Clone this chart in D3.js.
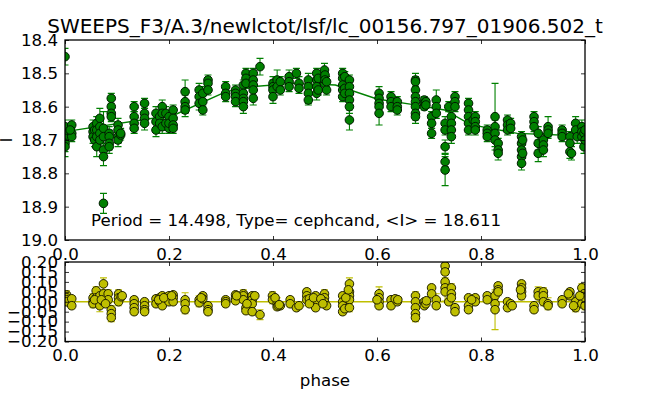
<!DOCTYPE html>
<html><head><meta charset="utf-8">
<script src="https://cdnjs.cloudflare.com/ajax/libs/d3/7.8.5/d3.min.js"></script>
<style>html,body{margin:0;padding:0;background:#fff}svg{display:block}text{font-family:"DejaVu Sans",sans-serif;fill:#000}</style>
</head><body><svg id="c" width="650" height="401"></svg>
<script>
const titleText = "SWEEPS_F3/A.3/newlctot/lsf/lc_00156.797_01906.502_t";
const noteText = "Period = 14.498, Type= cephcand, <I> = 18.611";
const phaseTicks = [0,0.2,0.4,0.6,0.8,1.0];
const magTicks = [18.4,18.5,18.6,18.7,18.8,18.9,19.0];
const residTicks = [0.20,0.15,0.10,0.05,0,-0.05,-0.10,-0.15,-0.20];

const modelPhase = [0,0.21,0.31,0.36,0.44,0.52,0.6,0.67,0.73,0.78,0.87,1.0];
const modelMag = [18.675,18.625,18.555,18.54,18.53,18.535,18.577,18.594,18.61,18.654,18.68,18.688];

const magPhase = [
0,0,0,0,0,0,0.013,0.013,0.013,0.01,
0.054,0.054,0.054,0.057,0.057,0.061,0.061,0.061,0.061,0.067,0.067,0.067,0.067,
0.074,0.074,0.074,0.074,0.074,0.085,0.085,0.085,0.085,0.089,0.089,0.089,0.089,
0.102,0.102,0.102,0.102,0.107,0.107,0.133,0.133,0.133,0.133,0.153,0.153,0.153,0.153,
0.175,0.175,0.175,0.182,0.182,0.187,0.187,0.187,0.194,0.194,0.2,0.2,0.2,0.208,0.208,0.208,0.208,
0.231,0.231,0.231,0.231,0.258,0.258,0.258,0.265,0.265,0.265,0.275,0.275,0.275,
0.309,0.309,0.309,0.328,0.328,0.328,0.328,0.343,0.343,0.343,0.343,0.343,0.348,0.348,0.348,
0.362,0.362,0.362,0.362,0.362,0.375,0.4,0.4,0.4,0.4,0.408,0.408,0.414,0.414,0.431,0.431,0.431,
0.445,0.45,0.45,0.468,0.468,0.468,0.468,0.484,0.484,0.484,0.484,0.487,0.487,
0.499,0.499,0.499,0.5,0.5,0.503,0.503,
0.534,0.534,0.534,0.534,0.534,0.538,0.538,0.538,0.547,0.547,0.547,0.547,0.547,0.547,
0.604,0.604,0.604,0.604,0.604,0.627,0.627,0.627,0.639,0.639,0.639,
0.674,0.674,0.674,0.674,0.674,0.674,0.674,0.674,0.691,0.691,0.691,0.694,0.694,
0.705,0.705,0.705,0.714,0.714,0.714,0.731,0.731,0.731,0.731,0.731,0.738,
0.743,0.743,0.743,0.743,0.75,0.75,0.75,
0.776,0.776,0.776,0.776,0.776,0.785,0.789,0.789,0.789,0.789,
0.812,0.812,0.812,0.827,0.827,0.827,0.827,0.833,0.833,0.833,0.851,0.851,0.851,0.857,0.857,
0.878,0.878,0.878,0.878,0.878,0.88,0.88,0.902,0.902,0.902,0.91,0.91,0.91,0.92,0.92,0.92,0.929,0.929,0.929,
0.956,0.956,0.956,0.971,0.971,0.971,0.974,0.982,0.982,0.985,0.994,0.994,0.994,0.998,0.998,1,1
];
const mag = [
18.45,18.66,18.68,18.695,18.71,18.72,18.655,18.68,18.69,18.67,
18.66,18.675,18.69,18.67,18.70,18.65,18.67,18.69,18.72,18.635,18.66,18.68,18.70,
18.665,18.69,18.73,18.75,18.89,18.68,18.69,18.71,18.72,18.575,18.60,18.62,18.63,
18.655,18.67,18.69,18.70,18.685,18.68,18.60,18.63,18.65,18.665,18.59,18.62,18.635,18.65,
18.62,18.645,18.67,18.63,18.65,18.60,18.62,18.66,18.65,18.62,18.63,18.665,18.65,18.61,18.635,18.655,18.665,
18.555,18.585,18.60,18.61,18.55,18.57,18.59,18.56,18.585,18.61,18.52,18.53,18.55,
18.54,18.56,18.57,18.55,18.56,18.57,18.585,18.535,18.56,18.575,18.585,18.60,18.50,18.515,18.53,
18.50,18.52,18.535,18.55,18.575,18.48,18.53,18.54,18.55,18.57,18.52,18.54,18.525,18.55,18.51,18.525,18.54,
18.50,18.53,18.545,18.52,18.54,18.56,18.58,18.50,18.52,18.54,18.56,18.515,18.55,
18.49,18.51,18.53,18.505,18.52,18.55,18.525,
18.50,18.515,18.535,18.55,18.57,18.51,18.545,18.56,18.52,18.54,18.56,18.58,18.60,18.64,
18.56,18.575,18.59,18.60,18.62,18.57,18.585,18.60,18.585,18.60,18.61,
18.52,18.525,18.55,18.57,18.585,18.60,18.62,18.63,18.58,18.59,18.60,18.585,18.595,
18.63,18.65,18.68,18.58,18.60,18.62,18.65,18.67,18.72,18.765,18.79,18.60,
18.63,18.65,18.67,18.69,18.57,18.585,18.60,
18.59,18.61,18.63,18.65,18.67,18.64,18.63,18.645,18.66,18.67,
18.67,18.68,18.69,18.63,18.66,18.68,18.70,18.71,18.73,18.74,18.64,18.655,18.67,18.65,18.665,
18.69,18.71,18.73,18.75,18.77,18.70,18.74,18.63,18.645,18.66,18.68,18.71,18.74,18.70,18.715,18.73,18.66,18.67,18.68,
18.67,18.68,18.69,18.69,18.71,18.735,18.74,18.65,18.67,18.69,18.66,18.675,18.69,18.68,18.72,18.67,18.70
];
const magErr = [
0.025,0.02,0.02,0.02,0.025,0.03,0.015,0.015,0.015,0.015,
0.02,0.02,0.02,0.02,0.02,0.02,0.02,0.02,0.03,0.03,0.025,0.02,0.02,
0.05,0.02,0.02,0.027,0.03,0.02,0.02,0.02,0.02,0.015,0.02,0.02,0.015,
0.02,0.02,0.02,0.02,0.015,0.015,0.015,0.015,0.015,0.015,0.015,0.015,0.015,0.02,
0.02,0.02,0.02,0.02,0.02,0.02,0.02,0.02,0.02,0.02,0.015,0.015,0.015,0.015,0.015,0.015,0.015,
0.035,0.02,0.02,0.02,0.02,0.02,0.02,0.02,0.015,0.015,0.015,0.015,0.015,
0.015,0.015,0.015,0.015,0.015,0.015,0.015,0.015,0.02,0.02,0.02,0.02,0.015,0.015,0.015,
0.015,0.02,0.015,0.015,0.02,0.025,0.02,0.02,0.02,0.02,0.03,0.015,0.015,0.015,0.02,0.015,0.015,
0.015,0.02,0.015,0.02,0.02,0.03,0.015,0.015,0.015,0.015,0.02,0.015,0.015,
0.02,0.02,0.015,0.015,0.015,0.015,0.015,
0.015,0.015,0.015,0.015,0.015,0.015,0.015,0.015,0.015,0.02,0.015,0.02,0.02,0.03,
0.02,0.015,0.015,0.015,0.035,0.015,0.015,0.015,0.015,0.015,0.015,
0.02,0.015,0.015,0.015,0.015,0.015,0.02,0.02,0.01,0.01,0.01,0.01,0.01,
0.015,0.015,0.015,0.03,0.015,0.015,0.02,0.015,0.02,0.015,0.047,0.015,
0.02,0.015,0.02,0.02,0.015,0.015,0.015,
0.015,0.015,0.015,0.02,0.015,0.015,0.015,0.015,0.015,0.015,
0.015,0.015,0.015,0.10,0.02,0.02,0.02,0.015,0.015,0.02,0.015,0.015,0.015,0.015,0.015,
0.015,0.015,0.015,0.015,0.02,0.015,0.015,0.015,0.015,0.015,0.02,0.02,0.025,0.02,0.02,0.02,0.03,0.015,0.015,
0.015,0.015,0.015,0.015,0.02,0.02,0.02,0.02,0.02,0.02,0.02,0.02,0.02,0.02,0.02,0.02,0.02
];

const residPhase = [
0.003,0.003,0.003,0.003,0.013,0.013,0.054,0.054,0.054,0.06,0.06,0.067,0.067,
0.074,0.074,0.074,0.083,0.083,0.089,0.089,0.089,0.103,0.103,0.103,0.108,
0.133,0.133,0.133,0.133,0.153,0.153,0.153,0.153,0.175,0.175,0.182,0.182,0.187,0.187,0.194,0.2,0.2,0.208,0.208,0.208,
0.231,0.231,0.231,0.258,0.258,0.265,0.265,0.275,0.275,0.275,0.309,0.309,0.309,
0.328,0.328,0.328,0.343,0.343,0.343,0.348,0.348,0.36,0.36,0.36,0.36,0.375,
0.399,0.399,0.408,0.408,0.414,0.433,0.433,0.445,0.45,0.465,0.465,0.465,0.47,0.482,0.482,0.482,
0.499,0.499,0.499,0.503,0.534,0.534,0.534,0.534,0.538,0.547,0.547,0.547,0.547,0.547,
0.604,0.604,0.604,0.604,0.627,0.627,0.639,0.639,0.674,0.674,0.674,0.674,0.674,0.691,0.691,0.694,
0.705,0.705,0.714,0.714,0.731,0.731,0.731,0.731,0.731,0.738,0.743,0.743,0.743,0.75,0.75,
0.776,0.776,0.776,0.785,0.789,0.789,0.812,0.812,0.827,0.827,0.827,0.833,0.833,0.833,0.851,0.851,0.857,
0.878,0.878,0.878,0.878,0.902,0.902,0.91,0.91,0.92,0.92,0.92,0.929,0.929,
0.956,0.956,0.971,0.971,0.982,0.982,0.994,0.994,0.994,0.998,1,1,
0.057,0.07,0.078,0.11,0.18,0.19,0.205,0.262,0.33,0.35,0.365,0.404,0.41,0.412,0.47,0.478,0.492,0.496,0.54,0.545,0.6,0.635,0.64,0.695,0.782,0.86,0.876,0.968,0.978,0.99
];
const resid = [
0.035,0.02,0.01,0,0.015,-0.02,0.02,0,-0.01,0.055,0.02,0.03,-0.02,
0.09,0.04,0,0.04,0.01,-0.04,-0.06,-0.08,0.04,0.02,0,0.025,
0.01,-0.01,-0.03,-0.05,0,-0.02,-0.04,-0.05,0.015,-0.01,0.02,0,0.03,-0.02,0.02,0.03,0,0.035,0.02,0,
0.01,-0.01,-0.04,0.01,-0.005,0.03,0.015,-0.02,-0.04,-0.05,0.01,0,-0.01,
0.035,0.02,0.005,0.04,0.03,0.01,-0.03,-0.045,0.03,0.01,-0.01,-0.05,-0.065,
0.03,0.01,-0.01,-0.025,-0.02,0.01,-0.01,-0.03,-0.02,0.05,0.03,0.01,0.015,0.03,0,-0.03,
0.04,0.02,0,-0.02,0.03,0,-0.02,-0.05,-0.035,0.09,0.05,0.03,0.01,-0.03,
0.04,0.02,0,-0.02,0.01,-0.02,0.01,0,0.03,0,-0.03,-0.06,-0.08,0,-0.02,-0.01,
0.07,0.04,0.01,-0.02,0.18,0.15,0.10,0.07,0.05,0,0.07,0.04,0.02,-0.03,-0.05,
0.02,-0.02,-0.04,0.01,0.02,0,0.03,0.01,0.03,-0.01,-0.04,0.08,0.06,0.05,0,-0.03,-0.01,
0.09,0.07,0.05,0.03,-0.02,-0.04,0.05,0.03,0.05,0.03,0,-0.01,-0.02,
0.01,-0.01,0.05,0.03,0,-0.03,0.07,0.02,-0.01,0.04,0.02,-0.02,
0.01,0.01,-0.01,0.03,0.01,0.02,0.03,0.02,0.03,-0.01,0.03,0.02,-0.02,-0.015,-0.01,0.02,0.015,-0.01,0.02,0.06,0.01,0.015,0.01,0.005,0.01,-0.02,0.06,0.04,-0.02,0.03
];
const residErrValues = [
0.02,0.02,0.02,0.02,0.015,0.015,0.02,0.02,0.02,0.02,0.02,0.02,0.03,
0.03,0.02,0.02,0.02,0.02,0.02,0.02,0.02,0.02,0.02,0.02,0.02,
0.015,0.015,0.015,0.015,0.015,0.015,0.015,0.015,0.015,0.015,0.015,0.015,0.015,0.015,0.015,0.015,0.015,0.015,0.015,0.015,
0.035,0.02,0.02,0.02,0.02,0.015,0.015,0.015,0.015,0.015,0.015,0.015,0.015,
0.015,0.015,0.015,0.02,0.02,0.015,0.015,0.015,0.015,0.015,0.015,0.015,0.025,
0.02,0.02,0.03,0.015,0.015,0.015,0.015,0.015,0.015,0.015,0.015,0.03,0.015,0.015,0.015,0.015,
0.02,0.015,0.015,0.015,0.015,0.015,0.015,0.015,0.015,0.03,0.015,0.02,0.02,0.02,
0.035,0.02,0.015,0.015,0.015,0.015,0.015,0.015,0.02,0.015,0.015,0.02,0.02,0.01,0.01,0.01,
0.015,0.015,0.03,0.015,0.02,0.015,0.02,0.015,0.047,0.015,0.02,0.015,0.02,0.015,0.015,
0.015,0.02,0.015,0.015,0.015,0.015,0.015,0.015,0.02,0.02,0.10,0.015,0.015,0.02,0.015,0.015,0.015,
0.015,0.015,0.015,0.02,0.02,0.015,0.025,0.02,0.02,0.02,0.02,0.03,0.015,
0.015,0.015,0.015,0.02,0.02,0.02,0.02,0.02,0.02,0.02,0.02,0.02,
0.015,0.015,0.015,0.015,0.015,0.015,0.015,0.015,0.015,0.015,0.015,0.015,0.015,0.015,0.015,0.015,0.015,0.015,0.015,0.015,0.015,0.015,0.015,0.015,0.015,0.015,0.015,0.015,0.015,0.015
];

const svg = d3.select("#c");
const L=65,R=585;
const x = d3.scaleLinear().domain([0,1]).range([L,R]);
const yTop = d3.scaleLinear().domain([18.4,19.0]).range([40,240]);
const yBot = d3.scaleLinear().domain([0.20,-0.20]).range([262,341.5]);
const defs = svg.append("defs");
[["clipTop",yTop],["clipBot",yBot]].forEach(([id,y])=>{
  defs.append("clipPath").attr("id",id).append("rect")
    .attr("x",L).attr("y",y.range()[0]).attr("width",R-L).attr("height",y.range()[1]-y.range()[0]);
});

function series(id,y,xs,ys,es,color,edge,line){
  const g = svg.append("g").attr("clip-path",`url(#${id})`);
  g.append("path").attr("fill","none").attr("stroke",color).attr("stroke-width",1.4)
    .attr("d",d3.line().x(d=>x(d[0])).y(d=>y(d[1]))(line));
  xs.forEach((p,i)=>{
    const px=x(p), a=y(ys[i]-es[i]), b=y(ys[i]+es[i]);
    g.append("path").attr("fill","none").attr("stroke",color).attr("stroke-width",1.1)
      .attr("d",`M${px},${a}V${b}M${px-3.5},${a}H${px+3.5}M${px-3.5},${b}H${px+3.5}`);
  });
  g.selectAll("circle").data(xs).join("circle")
    .attr("cx",d=>x(d)).attr("cy",(d,i)=>y(ys[i])).attr("r",4.3)
    .attr("fill",color).attr("stroke",edge).attr("stroke-width",1);
}
series("clipTop",yTop,magPhase,mag,magErr,"#008000","#001a00",modelPhase.map((p,i)=>[p,modelMag[i]]));
series("clipBot",yBot,residPhase,resid,residErrValues,"#bfbf00","#1f1f00",[[0,0],[1,0]]);

function frame(y,yTicks,fmt){
  const [t,b]=y.range();
  const g=svg.append("g");
  g.append("g").attr("transform",`translate(0,${b})`)
    .call(d3.axisBottom(x).tickValues(phaseTicks).tickSize(-4).tickPadding(8).tickFormat(d3.format(".1f")));
  g.append("g").attr("transform",`translate(0,${t})`)
    .call(d3.axisTop(x).tickValues(phaseTicks).tickSize(-4).tickFormat(""));
  g.append("g").attr("transform",`translate(${L},0)`)
    .call(d3.axisLeft(y).tickValues(yTicks).tickSize(-4).tickPadding(7).tickFormat(fmt));
  g.append("g").attr("transform",`translate(${R},0)`)
    .call(d3.axisRight(y).tickValues(yTicks).tickSize(-4).tickFormat(""));
  g.selectAll(".domain").remove();
  g.selectAll(".tick line").attr("stroke","#000").attr("stroke-width",0.8);
  g.selectAll("text").attr("font-size",16.67).attr("font-family",'"DejaVu Sans",sans-serif');
  g.append("rect").attr("x",L).attr("y",t).attr("width",R-L).attr("height",b-t)
    .attr("fill","none").attr("stroke","#000").attr("stroke-width",1.3);
}
frame(yTop,magTicks,d3.format(".1f"));
frame(yBot,residTicks,d3.format(".2f"));

svg.append("text").attr("x",325).attr("y",33).attr("text-anchor","middle").attr("font-size",20).text(titleText);
svg.append("text").attr("x",91).attr("y",226).attr("font-size",16.67).text(noteText);
svg.append("text").attr("x",325).attr("y",386).attr("text-anchor","middle").attr("font-size",16.67).text("phase");
svg.append("text").attr("transform","translate(12,140) rotate(-90)").attr("text-anchor","middle").attr("font-size",16.67).text("I");
</script></body></html>
